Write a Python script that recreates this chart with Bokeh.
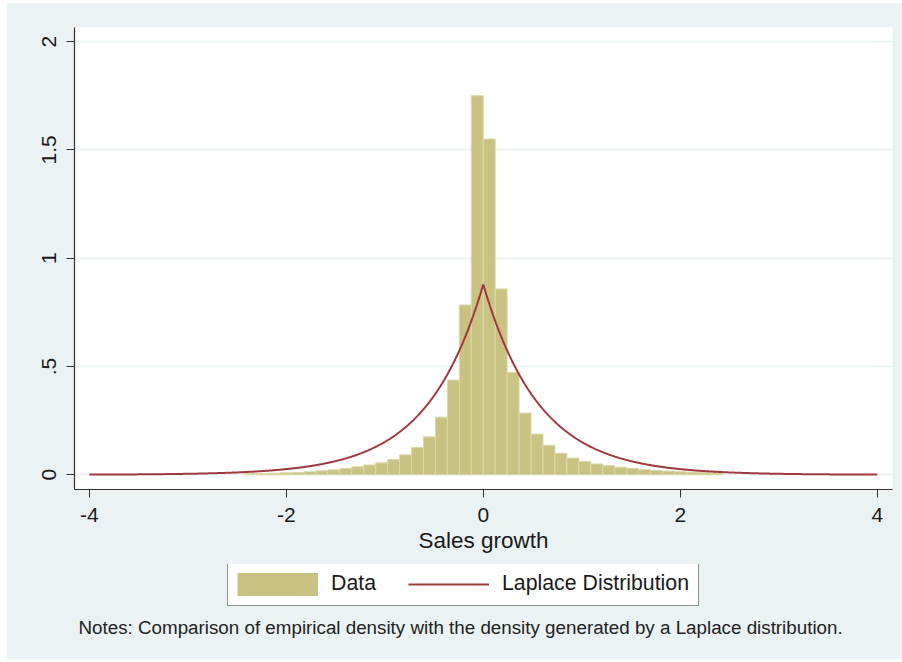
import numpy as np
from bokeh.plotting import figure
from bokeh.layouts import column
from bokeh.models import FixedTicker, Legend, LegendItem, Label, Range1d
from bokeh.embed import file_html
from bokeh.resources import INLINE

# Histogram of sales growth: bin k covers [k*bin_width, (k+1)*bin_width)
bin_width = 0.1213
bin_index = list(range(-20, 20))
density = [
    0.005, 0.006, 0.007, 0.009, 0.011, 0.014, 0.018, 0.023, 0.029, 0.037,
    0.045, 0.055, 0.070, 0.092, 0.126, 0.175, 0.266, 0.437, 0.784, 1.750,
    1.550, 0.858, 0.473, 0.285, 0.188, 0.136, 0.099, 0.077, 0.062, 0.050,
    0.042, 0.035, 0.029, 0.024, 0.020, 0.017, 0.014, 0.012, 0.010, 0.008,
]

# Fitted Laplace distribution (location, scale) and the span it is drawn over
laplace_loc = 0.0
laplace_scale = 0.569
laplace_span = (-4.0, 4.0)

x_ticks = [-4, -2, 0, 2, 4]
x_tick_labels = ["-4", "-2", "0", "2", "4"]
y_ticks = [0, 0.5, 1, 1.5, 2]
y_tick_labels = ["0", ".5", "1", "1.5", "2"]

FONT = "Liberation Sans"
TEXT = "#1a1a1a"
BG = "#EAF2F3"
BAR_FILL = "#C9C283"
BAR_EDGE = "#DCD8A8"
LINE_COLOR = "#9E383E"

p = figure(
    width=895, height=561,
    x_range=Range1d(-4.15, 4.155), y_range=Range1d(-0.068, 2.065),
    output_backend="svg", toolbar_location=None,
    min_border_left=67, min_border_right=10, min_border_top=24, min_border_bottom=75,
    background_fill_color="white", border_fill_color=BG, outline_line_color=None,
)

# histogram bars
left = [k * bin_width for k in bin_index]
right = [(k + 1) * bin_width for k in bin_index]
p.quad(left=left, right=right, bottom=0, top=density,
       fill_color=BAR_FILL, line_color=BAR_EDGE, line_width=1)

# Laplace density curve
xs = np.linspace(laplace_span[0], laplace_span[1], 1601)
ys = np.exp(-np.abs(xs - laplace_loc) / laplace_scale) / (2 * laplace_scale)
p.line(xs, ys, line_color=LINE_COLOR, line_width=2)

# axes
for ax, ticks, labels in ((p.xaxis[0], x_ticks, x_tick_labels), (p.yaxis[0], y_ticks, y_tick_labels)):
    ax.ticker = FixedTicker(ticks=ticks)
    ax.major_label_overrides = {t: l for t, l in zip(ticks, labels)}
    ax.minor_tick_line_color = None
    ax.major_tick_in = 0
    ax.major_tick_out = 8
    ax.major_tick_line_color = "#333333"
    ax.axis_line_color = "#333333"
    ax.axis_line_width = 1.2
    ax.major_label_text_font = FONT
    ax.major_label_text_font_size = "21px"
    ax.major_label_text_color = TEXT
    ax.major_label_standoff = 10

p.yaxis[0].major_label_orientation = "vertical"
p.xaxis[0].axis_label = "Sales growth"
p.xaxis[0].axis_label_text_font = FONT
p.xaxis[0].axis_label_text_font_size = "22.5px"
p.xaxis[0].axis_label_text_font_style = "normal"
p.xaxis[0].axis_label_text_color = TEXT
p.xaxis[0].axis_label_standoff = 3

p.xgrid.grid_line_color = None
p.ygrid.ticker = FixedTicker(ticks=y_ticks)
p.ygrid.grid_line_color = BG
p.ygrid.grid_line_width = 1.5

# key and notes strip under the chart; its frame lines up with the chart's
# frame, and one data unit equals one pixel
q = figure(
    width=895, height=95,
    x_range=Range1d(0, 818), y_range=Range1d(0, 95),
    x_axis_type=None, y_axis_type=None,
    output_backend="svg", toolbar_location=None,
    min_border_left=67, min_border_right=10, min_border_top=0, min_border_bottom=0,
    background_fill_alpha=0, border_fill_alpha=0, outline_line_color=None,
)
q.xgrid.visible = False
q.ygrid.visible = False

# key renderers: their only points lie outside the strip so just the key swatches show
key_bars = q.line(x=[-30, -20], y=[-30, -30], line_color=BAR_FILL, line_width=23, line_cap="butt")
key_line = q.line(x=[-30, -20], y=[-30, -30], line_color=LINE_COLOR, line_width=2)

legend = Legend(
    items=[LegendItem(label="Data", renderers=[key_bars]),
           LegendItem(label="Laplace Distribution", renderers=[key_line])],
    orientation="horizontal", location=(153, 53),
    glyph_width=81, glyph_height=24, label_height=24,
    label_standoff=13, spacing=32, padding=8, margin=0,
    label_text_font=FONT, label_text_font_size="21.3px", label_text_color=TEXT,
    border_line_color="#222222", border_line_width=1.2,
    background_fill_color="white", background_fill_alpha=1.0,
)
legend.padding = 9
q.add_layout(legend, "center")

notes = Label(
    x=4, y=32,
    text="Notes: Comparison of empirical density with the density generated by a Laplace distribution.",
    text_font=FONT, text_font_size="18.8px", text_color="#222222",
    text_align="left", text_baseline="middle",
)
q.add_layout(notes)

layout = column(p, q, spacing=0, margin=(3, 0, 3, 7), styles={"background-color": BG})
open("out.html", "w").write(file_html(layout, INLINE))
